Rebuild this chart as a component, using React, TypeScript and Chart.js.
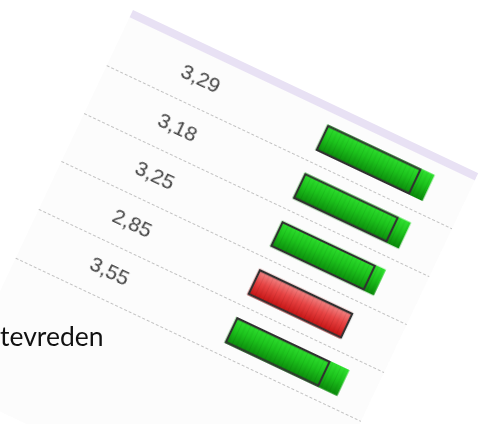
import React, { useEffect, useRef } from "react";
import { Chart, registerables } from "chart.js";

Chart.register(...registerables);

// Scores shown as text in each row
const scores = [3.29, 3.18, 3.25, 2.85, 3.55];
// Filled bar end values
const fillValues = [3.27, 3.25, 3.2, 2.97, 3.39];
// Outlined reference box (norm) range
const boxStart = 1;
const boxEnd = 3;
const sideText = "tevreden";

const labels = scores.map((s) => s.toFixed(2).replace(".", ","));

const BAR_T = 28;

const bgPlugin = {
  id: "bgPlugin",
  beforeDraw(chart: any) {
    const { ctx, width, height, chartArea } = chart;
    ctx.save();
    ctx.fillStyle = "#fcfcfc";
    ctx.fillRect(0, 0, width, height);
    ctx.fillStyle = "#e8e1f4";
    ctx.fillRect(0, 0, width, chartArea.top);
    ctx.restore();
  },
};

const stripePlugin = {
  id: "stripePlugin",
  afterDatasetDraw(chart: any, args: any) {
    if (args.index !== 1) return;
    const { ctx } = chart;
    const meta = chart.getDatasetMeta(1);
    ctx.save();
    meta.data.forEach((el: any) => {
      const p = el.getProps(["x", "y", "base", "height"], true);
      const left = Math.min(p.x, p.base);
      const right = Math.max(p.x, p.base);
      const top = p.y - p.height / 2;
      ctx.save();
      ctx.beginPath();
      ctx.rect(left, top, right - left, p.height);
      ctx.clip();
      ctx.lineWidth = 1;
      for (let x = left + 3; x < right; x += 4.5) {
        ctx.strokeStyle = "rgba(0,0,0,0.07)";
        ctx.beginPath();
        ctx.moveTo(x, top);
        ctx.lineTo(x, top + p.height);
        ctx.stroke();
      }
      ctx.restore();
    });
    ctx.restore();
  },
};

function App() {
  const ref = useRef<HTMLCanvasElement | null>(null);

  useEffect(() => {
    if (!ref.current) return;
    const chart = new Chart(ref.current, {
      type: "bar",
      data: {
        labels,
        datasets: [
          {
            label: "norm",
            data: labels.map(() => [boxStart, boxEnd]) as any,
            backgroundColor: "rgba(0,0,0,0)",
            borderColor: "#303030",
            borderWidth: 1.6,
            borderSkipped: false,
            grouped: false,
            order: 0,
            barThickness: BAR_T,
          },
          {
            label: "score",
            data: fillValues.map((v) => [boxStart, v]) as any,
            backgroundColor: (c: any) => {
              const chart = c.chart;
              const low = fillValues[c.dataIndex] < boxEnd;
              if (!chart.chartArea || c.dataIndex === undefined) return low ? "#dd2222" : "#18b818";
              const y = chart.scales.y.getPixelForValue(c.dataIndex);
              const g = chart.ctx.createLinearGradient(0, y - BAR_T / 2, 0, y + BAR_T / 2);
              if (low) {
                g.addColorStop(0, "#f38a8a");
                g.addColorStop(0.45, "#e84444");
                g.addColorStop(1, "#c41010");
              } else {
                g.addColorStop(0, "#2fe02f");
                g.addColorStop(0.45, "#1cc41c");
                g.addColorStop(1, "#0b8a0b");
              }
              return g;
            },
            borderWidth: 0,
            grouped: false,
            order: 1,
            barThickness: BAR_T,
          },
        ],
      },
      options: {
        indexAxis: "y",
        responsive: false,
        animation: false,
        layout: { padding: { top: 8, bottom: 146, left: 0, right: 0 } },
        plugins: { legend: { display: false }, tooltip: { enabled: false } },
        scales: {
          x: { display: false, min: -3.33, max: 4.02 },
          y: {
            position: "left",
            grid: {
              drawTicks: false,
              offset: true,
              lineWidth: 1,
              color: (c: any) => (c.index === 0 ? "rgba(0,0,0,0)" : "#c2c2c2"),
            },
            border: { display: false, dash: [3, 2] },
            ticks: {
              mirror: true,
              padding: 70,
              color: "#424242",
              font: { family: "'Liberation Sans', Arial, sans-serif", size: 21 },
            },
            afterFit: (s: any) => {
              s.width = 0;
              s.paddingTop = 0;
              s.paddingBottom = 0;
            },
          },
        },
      },
      plugins: [bgPlugin, stripePlugin],
    });
    return () => chart.destroy();
  }, []);

  return (
    <div
      style={{
        position: "fixed",
        left: 0,
        top: 0,
        width: 483,
        height: 424,
        overflow: "hidden",
        background: "#ffffff",
      }}
    >
      <div
        style={{
          position: "absolute",
          left: 133,
          top: 10,
          width: 382,
          height: 420,
          transform: "rotate(25.3deg)",
          transformOrigin: "0 0",
        }}
      >
        <canvas ref={ref} width={382} height={420} style={{ display: "block" }} />
      </div>
      <div
        style={{
          position: "absolute",
          left: 0,
          top: 321,
          fontFamily: "Lato, 'Open Sans', sans-serif",
          fontSize: 26.5,
          lineHeight: "30px",
          color: "#111111",
          whiteSpace: "nowrap",
        }}
      >
        {sideText}
      </div>
    </div>
  );
}

export default App;
